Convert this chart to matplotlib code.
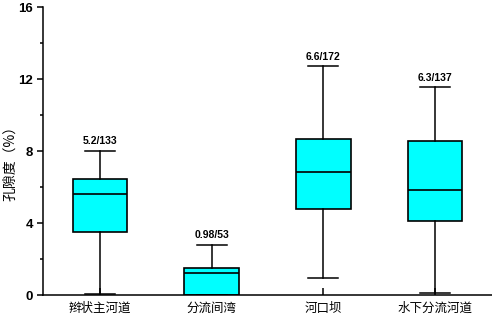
import matplotlib
matplotlib.use("Agg")
import matplotlib.pyplot as plt
from matplotlib.ticker import MultipleLocator

# data (porosity, %)
categories = ["辫状主河道", "分流间湾", "河口坝", "水下分流河道"]
whis_lo = [0.07, 0.0, 0.94, 0.11]
q1 = [3.5, 0.0, 4.76, 4.09]
median = [5.63, 1.2, 6.85, 5.85]
q3 = [6.44, 1.5, 8.68, 8.54]
whis_hi = [8.02, 2.8, 12.7, 11.57]
labels = ["5.2/133", "0.98/53", "6.6/172", "6.3/137"]

cjk = ["Noto Sans CJK SC", "DejaVu Sans"]
num_font = "Liberation Sans"

fig = plt.figure(figsize=(4.92, 3.16), dpi=100)
ax = fig.add_axes([43 / 492, 21 / 316, 449 / 492, 288 / 316])

stats = []
for i in range(len(categories)):
    stats.append(dict(med=median[i], q1=q1[i], q3=q3[i],
                      whislo=whis_lo[i], whishi=whis_hi[i], fliers=[]))

pos = list(range(1, len(categories) + 1))
ax.bxp(stats, positions=pos, widths=0.49, patch_artist=True,
       showfliers=False,
       boxprops=dict(facecolor="#00FFFF", edgecolor="black", linewidth=1.2),
       medianprops=dict(color="black", linewidth=1.2),
       whiskerprops=dict(color="black", linewidth=1.1),
       capprops=dict(color="black", linewidth=1.1),
       capwidths=0.27)

# mean / count labels above the upper caps
for p, top, lab in zip(pos, whis_hi, labels):
    ax.annotate(lab, (p, top), xytext=(0, 3), textcoords="offset points",
                ha="center", va="bottom", fontsize=7.5, fontweight="bold",
                family=num_font)

ax.set_xlim(0.49, 4.51)
ax.set_ylim(0, 16)
ax.yaxis.set_major_locator(MultipleLocator(4))
ax.yaxis.set_minor_locator(MultipleLocator(2))
ax.set_xticks(pos)
ax.set_xticklabels(categories, family=cjk, fontsize=9)
for t in ax.get_yticklabels():
    t.set_fontweight("bold")
    t.set_family(num_font)
    t.set_fontsize(9.5)

ax.tick_params(axis="x", direction="in", length=5, width=1.1, pad=5)
ax.tick_params(axis="y", which="major", direction="out", length=4, width=1.1, pad=3)
ax.tick_params(axis="y", which="minor", direction="out", length=2.2, width=1.1)

ax.spines["top"].set_visible(False)
ax.spines["right"].set_visible(False)
ax.spines["left"].set_linewidth(1.1)
ax.spines["bottom"].set_linewidth(1.1)

ax.set_ylabel("孔隙度（%）", family=cjk, fontsize=10, va="center")
ax.yaxis.set_label_coords(-0.073, 0.47)

fig.savefig("out.png", dpi=100)
